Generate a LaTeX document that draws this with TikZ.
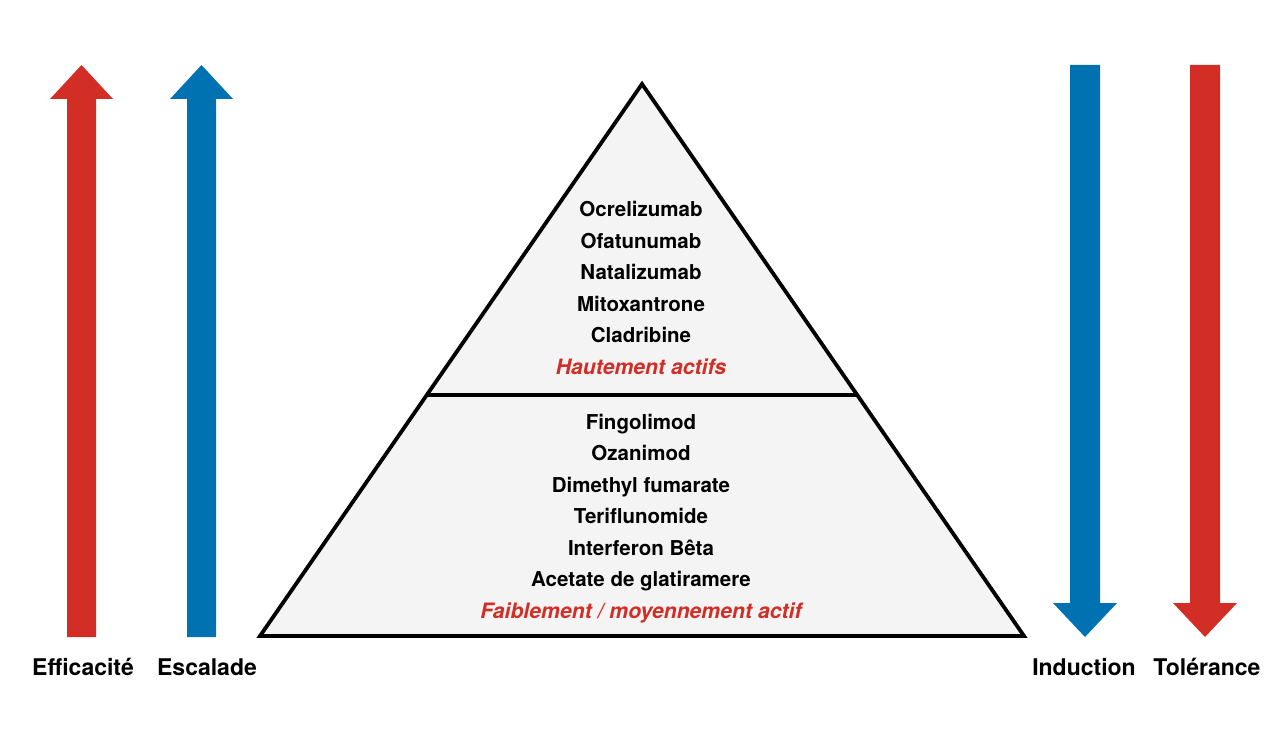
\documentclass[tikz,border=0pt]{standalone}
\usepackage{fontspec}
\setmainfont{TeX Gyre Heros}
\definecolor{rouge}{HTML}{D22E26}
\definecolor{bleu}{HTML}{0072B2}
\definecolor{fond}{HTML}{F4F4F4}

\begin{document}
\begin{tikzpicture}[x=1pt,y=-1pt,  % 1 unité = 1 pixel, y vers le bas
    produit/.style={anchor=base, font=\bfseries\fontsize{20.5}{24}\selectfont},
    classe/.style={anchor=base, text=rouge, font=\bfseries\itshape\fontsize{21.2}{24}\selectfont},
    legende/.style={anchor=base, font=\bfseries\fontsize{23}{26}\selectfont}]

    \useasboundingbox (0,0) rectangle (1280,735);

    % flèches montantes
    \fill[rouge] (67,637) -- (67,99) -- (50,99) -- (81.5,65) -- (113,99) -- (96,99) -- (96,637) -- cycle; % Efficacité
    \fill[bleu] (187,637) -- (187,99) -- (170,99) -- (201.5,65) -- (233,99) -- (216,99) -- (216,637) -- cycle; % Escalade

    % flèches descendantes
    \fill[bleu] (1070,65) -- (1070,603) -- (1053,603) -- (1085,637) -- (1117,603) -- (1100,603) -- (1100,65) -- cycle; % Induction
    \fill[rouge] (1190,65) -- (1190,603) -- (1173,603) -- (1205,637) -- (1237,603) -- (1220,603) -- (1220,65) -- cycle; % Tolérance

    % pyramide
    \filldraw[fill=fond, line width=3.8pt, line join=miter] (642,84) -- (1024,636) -- (260,636) -- cycle;
    \draw[line width=3.5pt] (427,395) -- (858,395); % séparation

    % niveau haut
    \node[produit] (ocre) at (641,217) {Ocrelizumab};
    \node[produit] (ofat) at (641,248.5) {Ofatunumab};
    \node[produit] (nata) at (641,280) {Natalizumab};
    \node[produit] (mito) at (641,311.5) {Mitoxantrone};
    \node[produit] (clad) at (641,343) {Cladribine};
    \node[classe] (haut) at (641,374.5) {Hautement actifs};

    % niveau bas
    \node[produit] (fing) at (641,429) {Fingolimod};
    \node[produit] (ozan) at (641,460.5) {Ozanimod};
    \node[produit] (dime) at (641,492) {Dimethyl fumarate};
    \node[produit] (teri) at (641,523.5) {Teriflunomide};
    \node[produit] (inte) at (641,555) {Interferon Bêta};
    \node[produit] (acet) at (641,586.5) {Acetate de glatiramere};
    \node[classe] (faib) at (641,618) {Faiblement / moyennement actif};

    % légendes
    \node[legende] (effi) at (83,675) {Efficacité};
    \node[legende] (esca) at (207,675) {Escalade};
    \node[legende] (indu) at (1084,675) {Induction};
    \node[legende] (tole) at (1207,675) {Tolérance};

\end{tikzpicture}
\end{document}
